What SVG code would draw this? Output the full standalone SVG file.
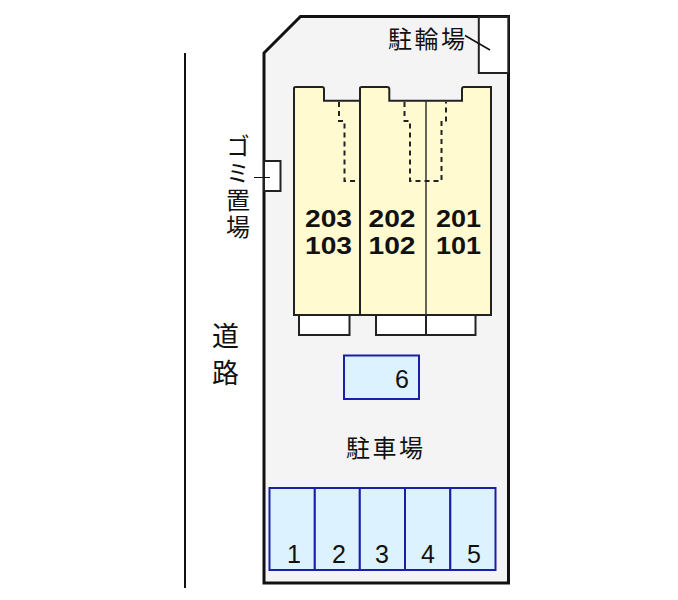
<svg xmlns="http://www.w3.org/2000/svg" width="678" height="600" viewBox="0 0 678 600">
<style>
.jp{font-family:"Noto Sans CJK JP","Noto Sans",sans-serif;fill:#111}
.num{font-family:"Liberation Sans",Arial,sans-serif;fill:#111;font-size:25px;text-anchor:middle}
.unit{font-family:"Liberation Sans",Arial,sans-serif;fill:#111;font-size:24px;font-weight:bold;text-anchor:middle}
.bay{fill:#dcf3ff;stroke:#1a1fa8;stroke-width:2}
.wh{fill:#fff;stroke:#222;stroke-width:2}
</style>
<rect width="678" height="600" fill="#fff"/>
<g id="road">
<line x1="185" y1="53" x2="185" y2="588" stroke="#111" stroke-width="2"/>
<text class="jp" font-size="27" x="212" y="346">道</text>
<text class="jp" font-size="27" x="212" y="383">路</text>
</g>
<g id="site">
<path d="M264 53L300.500 16.500H508.500V583H264Z" fill="#f4f4f4" stroke="#111" stroke-width="3"/>
</g>
<g id="bike-parking">
<rect x="478.800" y="17" width="29.500" height="56" class="wh"/>
<text class="jp" font-size="24" x="388" y="48" textLength="77">駐輪場</text>
</g>
<g id="garbage">
<rect x="264" y="161" width="16.500" height="30" class="wh"/>
<text class="jp" font-size="24" x="238" y="134" style="writing-mode:vertical-rl;letter-spacing:3px">ゴミ置場</text>
</g>
<g id="carports">
<rect x="299" y="315" width="50.500" height="20" class="wh"/>
<rect x="376" y="315" width="50" height="20" class="wh"/>
<rect x="426" y="315" width="49.500" height="20" class="wh"/>
</g>
<g id="building">
<path d="M294 315V88Q294 87 296 87H322Q324 87 324 89V100.700H360V88Q360 87 362 87H387Q389.300 87 389.300 89V100.700H462V89Q462 87 464 87H491V315Z" fill="#fffad0" stroke="#222" stroke-width="2"/>
<line x1="360" y1="100" x2="360" y2="315" stroke="#222" stroke-width="2"/>
<line x1="426" y1="101" x2="426" y2="315" stroke="#333" stroke-width="1.500"/>
<g fill="none" stroke="#222" stroke-width="2" stroke-dasharray="5 4">
<path d="M339 102V121H344.500V181H360"/>
<path d="M404.500 102V121H410V181H441.500V122H446V102"/>
</g>
</g>
<g id="unit-203-103">
<text class="unit" x="328.500" y="227" textLength="47" lengthAdjust="spacingAndGlyphs">203</text>
<text class="unit" x="328.500" y="254" textLength="47" lengthAdjust="spacingAndGlyphs">103</text>
</g>
<g id="unit-202-102">
<text class="unit" x="392" y="227" textLength="47" lengthAdjust="spacingAndGlyphs">202</text>
<text class="unit" x="392" y="254" textLength="47" lengthAdjust="spacingAndGlyphs">102</text>
</g>
<g id="unit-201-101">
<text class="unit" x="458.500" y="227" textLength="45" lengthAdjust="spacingAndGlyphs">201</text>
<text class="unit" x="458.500" y="254" textLength="45" lengthAdjust="spacingAndGlyphs">101</text>
</g>
<g id="bay-6">
<rect x="344" y="355.500" width="75" height="43.500" class="bay"/>
<text class="num" x="402" y="388">6</text>
</g>
<g id="parking">
<text class="jp" font-size="24" x="346" y="457" textLength="77">駐車場</text>
<rect x="269.500" y="488" width="45.300" height="82" class="bay"/>
<rect x="314.800" y="488" width="45" height="82" class="bay"/>
<rect x="359.800" y="488" width="45.200" height="82" class="bay"/>
<rect x="405" y="488" width="45.300" height="82" class="bay"/>
<rect x="450.300" y="488" width="45.200" height="82" class="bay"/>
<text class="num" x="294" y="563">1</text>
<text class="num" x="339" y="563">2</text>
<text class="num" x="382" y="563">3</text>
<text class="num" x="428" y="563">4</text>
<text class="num" x="474" y="563">5</text>
</g>
<g id="connectors">
<line x1="465" y1="35.500" x2="490" y2="50" stroke="#111" stroke-width="1.500"/>
<line x1="254" y1="177.500" x2="270" y2="177.500" stroke="#111" stroke-width="1"/>
</g>
</svg>
